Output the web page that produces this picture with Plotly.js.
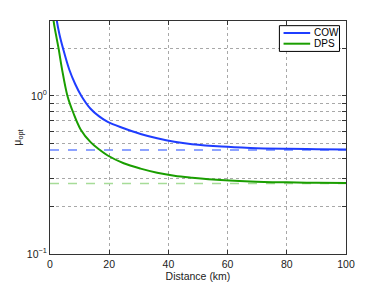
<!DOCTYPE html>
<html><head><meta charset="utf-8">
<script src="https://cdn.plot.ly/plotly-3.0.1.min.js"></script>
<style>html,body{margin:0;padding:0;background:#fff}#c{width:382px;height:287px}</style>
</head><body><div id="c"></div>
<script>
const cowDist = [2.0, 2.3, 3.2, 4.4, 6.5, 8.5, 10.6, 13.7, 16.5, 19.5, 24.9, 30.6, 36.2, 42, 48, 58, 67.7, 80, 90, 100];
const cowMu   = [3.4, 3.0, 2.45, 2.0, 1.47, 1.19, 1.0, 0.83, 0.745, 0.685, 0.625, 0.575, 0.54, 0.513, 0.495, 0.478, 0.469, 0.463, 0.46, 0.458];
const dpsDist = [1.0, 1.2, 2.0, 2.9, 4.0, 5.9, 7.9, 10.4, 13.7, 16.5, 19.5, 24.9, 30.6, 36.2, 42, 48, 55, 67.7, 80, 90, 100];
const dpsMu   = [3.6, 3.0, 2.45, 2.0, 1.5, 1.0, 0.78, 0.612, 0.51, 0.46, 0.42, 0.375, 0.347, 0.327, 0.313, 0.304, 0.296, 0.288, 0.284, 0.282, 0.281];
const cowAsym = 0.455;
const dpsAsym = 0.279;
const seriesNames = ['COW', 'DPS'];
const xRange = [0, 100];
const xTicks = [0, 20, 40, 60, 80, 100];
const yTickVals = [0.1,0.2,0.3,0.4,0.5,0.6,0.7,0.8,0.9,1,2,3];
const yTickText = ['10<sup>−1</sup>','','','','','','','','','10<sup>0</sup>','',''];

const blue = '#1f3dff', green = '#1a9e00';
const colors = [blue, green];
const traces = [
  {x: xRange, y: [cowAsym, cowAsym], mode:'lines', line:{color:'#6a85ff', width:1.3, dash:'dash'}, showlegend:false, hoverinfo:'skip'},
  {x: xRange, y: [dpsAsym, dpsAsym], mode:'lines', line:{color:'#a6dc98', width:1.6, dash:'dash'}, showlegend:false, hoverinfo:'skip'},
  {x: cowDist, y: cowMu, name:seriesNames[0], mode:'lines', line:{color:blue, width:2, shape:'spline', smoothing:1}, showlegend:false},
  {x: dpsDist, y: dpsMu, name:seriesNames[1], mode:'lines', line:{color:green, width:2, shape:'spline', smoothing:1}, showlegend:false}
];
// compact legend box (paper coordinates)
const lg = {x0:0.775, x1:0.978, y0:0.8695, y1:0.980, lx0:0.789, lx1:0.879, tx:0.884, rows:[0.9485, 0.9026]};
const shapes = [{type:'rect', xref:'paper', yref:'paper', x0:lg.x0, x1:lg.x1, y0:lg.y0, y1:lg.y1, line:{color:'#000', width:1}, fillcolor:'#fff', layer:'above'}];
const annotations = [];
seriesNames.forEach((n, i) => {
  shapes.push({type:'line', xref:'paper', yref:'paper', x0:lg.lx0, x1:lg.lx1, y0:lg.rows[i], y1:lg.rows[i], line:{color:colors[i], width:2}, layer:'above'});
  annotations.push({xref:'paper', yref:'paper', x:lg.tx, y:lg.rows[i], xanchor:'left', yanchor:'middle', text:n, showarrow:false,
    font:{family:'Liberation Sans, Arial, sans-serif', size:10, color:'#000'}});
});
const axFont = {family:'Liberation Sans, Arial, sans-serif', size:10.5, color:'#222'};
const layout = {
  width:382, height:287,
  margin:{l:49.5, r:36.3, t:21.3, b:32.7},
  paper_bgcolor:'#fff', plot_bgcolor:'#fff',
  font: axFont,
  showlegend:false,
  shapes, annotations,
  xaxis:{range:xRange, tickvals:xTicks, ticks:'inside', ticklen:4, tickcolor:'#333', showline:true, linecolor:'#333', linewidth:1, mirror:'ticks',
         showgrid:true, gridcolor:'#a8a8a8', griddash:'dot', gridwidth:1, zeroline:false, tickfont:axFont,
         title:{text:'Distance (km)', font:axFont, standoff:2}},
  yaxis:{type:'log', range:[-1, Math.log10(2.98)], tickvals:yTickVals, ticktext:yTickText, ticks:'inside', ticklen:4, tickcolor:'#333',
         showline:true, linecolor:'#333', linewidth:1, mirror:'ticks', showgrid:true, gridcolor:'#a8a8a8', griddash:'dot', gridwidth:1,
         zeroline:false, tickfont:axFont, title:{text:'μ<sub>opt</sub>', font:axFont, standoff:3}}
};
Plotly.newPlot('c', traces, layout, {displayModeBar:false, staticPlot:true});
</script></body></html>
